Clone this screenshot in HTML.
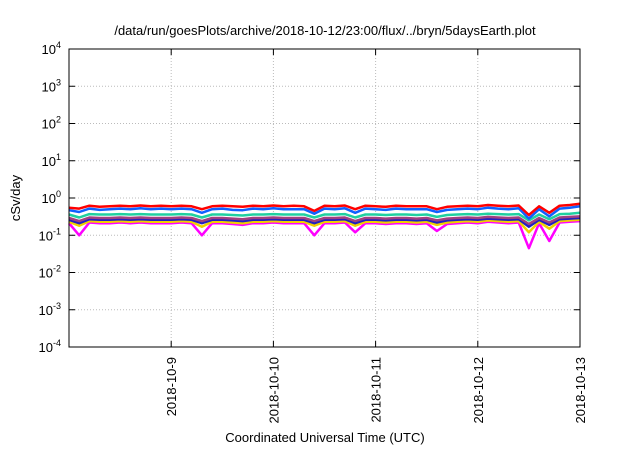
<!DOCTYPE html>
<html><head><meta charset="utf-8"><style>
body{margin:0;background:#fff;width:640px;height:448px;overflow:hidden}
svg{font-family:"Liberation Sans",sans-serif}
</style></head><body>
<svg id="c" width="640" height="448" xmlns="http://www.w3.org/2000/svg"></svg>
<script>
const yTicks=[4,3,2,1,0,-1,-2,-3,-4];
const xTickLabels=["2018-10-9","2018-10-10","2018-10-11","2018-10-12","2018-10-13"];
const xTickDays=[1,2,3,4,5];
const seriesColors=["#ff0000","#1060ff","#20d0a0","#a04080","#2020c0","#f0d000","#ff00ff"];
const red=[0.55,0.52,0.62,0.58,0.6,0.62,0.6,0.63,0.6,0.62,0.6,0.62,0.6,0.5,0.6,0.62,0.6,0.58,0.62,0.6,0.63,0.6,0.62,0.6,0.45,0.62,0.6,0.63,0.5,0.62,0.6,0.58,0.62,0.6,0.6,0.6,0.5,0.58,0.6,0.62,0.6,0.65,0.62,0.6,0.63,0.35,0.6,0.4,0.62,0.65,0.7];
const blue=[0.47,0.42,0.52,0.48,0.5,0.52,0.5,0.53,0.5,0.52,0.5,0.52,0.5,0.4,0.5,0.52,0.48,0.47,0.52,0.5,0.53,0.5,0.5,0.5,0.38,0.52,0.5,0.53,0.4,0.52,0.5,0.48,0.52,0.5,0.5,0.5,0.42,0.48,0.5,0.52,0.5,0.55,0.52,0.5,0.53,0.28,0.5,0.32,0.52,0.55,0.6];
const teal=[0.36,0.3,0.37,0.36,0.36,0.37,0.36,0.37,0.36,0.36,0.36,0.37,0.36,0.3,0.36,0.36,0.35,0.34,0.36,0.36,0.37,0.36,0.36,0.36,0.3,0.36,0.36,0.37,0.3,0.36,0.36,0.35,0.36,0.36,0.35,0.36,0.31,0.35,0.36,0.37,0.36,0.38,0.37,0.36,0.37,0.25,0.36,0.27,0.37,0.38,0.4];
const purple=[0.29,0.24,0.3,0.29,0.29,0.3,0.29,0.3,0.29,0.29,0.29,0.3,0.29,0.24,0.29,0.29,0.28,0.27,0.29,0.29,0.3,0.29,0.29,0.29,0.24,0.29,0.29,0.3,0.24,0.29,0.29,0.28,0.29,0.29,0.28,0.29,0.25,0.28,0.29,0.3,0.29,0.31,0.3,0.29,0.3,0.2,0.29,0.22,0.3,0.31,0.32];
const navy=[0.26,0.21,0.27,0.26,0.26,0.27,0.26,0.27,0.26,0.26,0.26,0.27,0.26,0.21,0.26,0.26,0.25,0.24,0.26,0.26,0.27,0.26,0.26,0.26,0.21,0.26,0.26,0.27,0.21,0.26,0.26,0.25,0.26,0.26,0.25,0.26,0.22,0.25,0.26,0.27,0.26,0.28,0.27,0.26,0.27,0.17,0.26,0.19,0.27,0.28,0.29];
const yellow=[0.23,0.18,0.24,0.23,0.23,0.24,0.23,0.24,0.23,0.23,0.23,0.24,0.23,0.17,0.23,0.23,0.22,0.21,0.23,0.23,0.24,0.23,0.23,0.23,0.18,0.23,0.23,0.24,0.18,0.23,0.23,0.22,0.23,0.23,0.22,0.23,0.19,0.22,0.23,0.24,0.23,0.25,0.24,0.23,0.24,0.12,0.23,0.15,0.24,0.25,0.26];
const magenta=[0.21,0.1,0.22,0.21,0.21,0.22,0.21,0.22,0.21,0.21,0.21,0.22,0.21,0.1,0.21,0.21,0.2,0.19,0.21,0.21,0.22,0.21,0.21,0.21,0.1,0.21,0.21,0.22,0.12,0.21,0.21,0.2,0.21,0.21,0.2,0.21,0.13,0.2,0.21,0.22,0.21,0.23,0.22,0.21,0.22,0.045,0.21,0.07,0.22,0.23,0.24];
const seriesList=[red,blue,teal,purple,navy,yellow,magenta];
const NS="http://www.w3.org/2000/svg";
const svg=document.getElementById('c');
const L=69,R=580,T=49,B=347;
const xs=d=>L+(R-L)*d/5;
const ys=v=>T+(B-T)*(4-Math.log10(v))/8;
function mk(tag,attrs){const e=document.createElementNS(NS,tag);for(const k in attrs)e.setAttribute(k,attrs[k]);svg.appendChild(e);return e;}
// grid
yTicks.forEach(p=>{const y=ys(Math.pow(10,p));
 if(p<4&&p>-4){const g=mk('line',{x1:L,x2:R,y1:y,y2:y,stroke:'#bbb','stroke-dasharray':'1,2'});
 
 }
 const t=mk('line',{x1:L,x2:L+6,y1:y,y2:y,stroke:'#000'});
 
 
 const t2=mk('line',{x1:R-6,x2:R,y1:y,y2:y,stroke:'#000'});
 
 
 const tx=mk('text',{x:L-8,y:y+5,'text-anchor':'end','font-size':13});
 
 
 tx.innerHTML='10<tspan dy="-6" font-size="9">'+p+'</tspan>';
});
xTickDays.forEach((d,i)=>{const x=xs(d);
 if(d<5){const g=mk('line',{x1:x,x2:x,y1:T,y2:B,stroke:'#bbb','stroke-dasharray':'1,2'});
 
 }
 const t=mk('line',{x1:x,x2:x,y1:B,y2:B-6,stroke:'#000'});
 
 
 const t2=mk('line',{x1:x,x2:x,y1:T,y2:T+6,stroke:'#000'});
 
 
 const tx=mk('text',{x:x+5,y:B+10,'text-anchor':'end','font-size':13,transform:`rotate(-90 ${x+5} ${B+10})`});
 
 
 tx.textContent=xTickLabels[i];
});
// series
seriesList.slice().reverse().forEach((s,ri)=>{const idx=seriesList.length-1-ri;
 const pts=s.map((v,i)=>xs(i*5/(s.length-1)).toFixed(1)+','+ys(v).toFixed(1)).join(' ');
 const pl=mk('polyline',{points:pts,fill:'none',stroke:seriesColors[idx],'stroke-width':2.5,'stroke-linejoin':'round'});
 
 
});
const fr=mk('rect',{x:L,y:T,width:R-L,height:B-T,fill:'none',stroke:'#000','stroke-width':1});


const ti=mk('text',{x:325,y:35,'text-anchor':'middle','font-size':13});


ti.textContent='/data/run/goesPlots/archive/2018-10-12/23:00/flux/../bryn/5daysEarth.plot';
const yl=mk('text',{x:20,y:198,'text-anchor':'middle','font-size':13,transform:'rotate(-90 20 198)'});


yl.textContent='cSv/day';
const xl=mk('text',{x:325,y:442,'text-anchor':'middle','font-size':13});


xl.textContent='Coordinated Universal Time (UTC)';
</script>
</body></html>
